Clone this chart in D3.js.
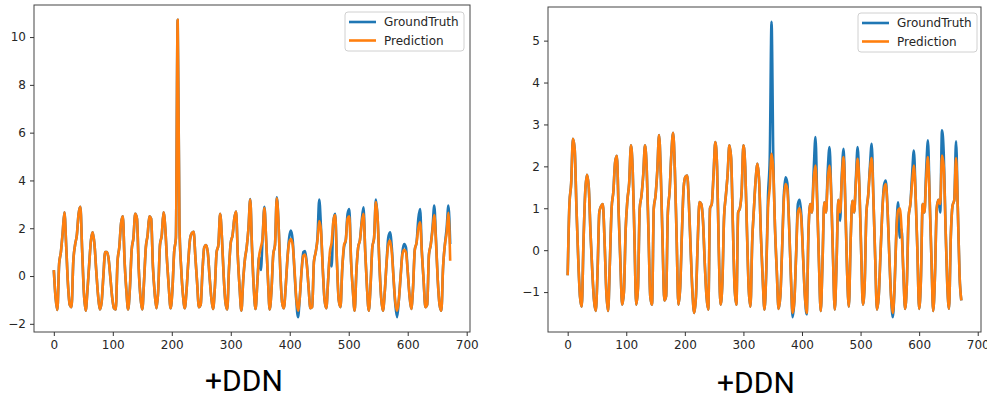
<!DOCTYPE html>
<html>
<head>
<meta charset="utf-8">
<script src="https://cdn.jsdelivr.net/npm/d3@7"></script>
<style>
  html, body { margin: 0; padding: 0; background: #fff; }
  svg { display: block; }
  .tick text { font-family: "DejaVu Sans", sans-serif; font-size: 12px; fill: #262626; }
  .tick line, .domain { stroke: #333; }
</style>
</head>
<body>
<svg id="chart" width="987" height="399"></svg>
<script>
// sample spacing (time steps) of every series below
const step = 3;

// left panel, sampled every 3 steps (0..672)
const leftGroundTruth = [
  0.25, -0.9, -1.42, 0.5, 1.0, 1.8, 2.67, 1.25,
  -0.35, -1.2, -1.3, 0.6, 1.3, 1.7, 2.6, 2.9,
  1.1, -0.7, -1.45, -0.6, 0.5, 1.5, 1.83, 1.3,
  0.2, -0.8, -1.4, -1.1, 0.0, 1.0, 1.0, 0.7,
  -0.1, -0.9, -1.35, -1.4, 0.6, 1.2, 2.2, 2.5,
  0.6, -0.6, -1.4, -0.5, 1.1, 1.6, 2.6, 2.4,
  0.3, -0.9, -1.4, -0.2, 1.2, 1.7, 2.5, 2.4,
  0.4, -0.7, -1.35, -0.6, 1.3, 1.7, 2.67, 2.0,
  0.6, -0.5, -1.35, -0.6, 1.0, 1.6, 10.72, 2.1,
  0.3, -0.8, -1.35, -0.6, 0.6, 1.55, 1.8, 1.85,
  0.8, -0.3, -1.3, -1.2, 0.2, 1.2, 1.3, 1.0,
  0.0, -0.9, -1.38, -0.5, 1.0, 1.3, 2.6, 1.6,
  0.0, -1.1, -1.4, 0.3, 1.4, 1.7, 2.4, 2.7,
  0.8, -0.5, -1.45, -0.2, 0.7, 1.2, 2.0, 3.22,
  1.2, -0.5, -1.38, -0.3, 0.8, 0.25, 1.6, 2.9,
  1.5, -0.1, -1.4, -0.6, 0.9, 1.3, 3.3, 2.2,
  0.2, -1.1, -1.35, -0.5, 0.7, 1.6, 1.9, 1.5,
  0.2, -1.0, -1.72, -0.9, 0.2, 1.0, 1.05, 0.5,
  -0.5, -1.35, -1.3, 0.6, 1.0, 1.6, 3.2, 2.0,
  0.3, -1.0, -1.35, -0.2, 0.8, 0.4, 2.3, 2.6,
  0.6, -1.0, -1.3, 0.3, 1.2, 1.5, 2.6, 2.8,
  0.6, -0.6, -1.45, 0.2, 1.2, 1.5, 2.3, 2.88,
  1.0, -0.5, -1.45, -0.4, 1.2, 1.6, 3.2, 2.4,
  0.5, -0.9, -1.45, -0.7, 0.5, 1.6, 1.83, 1.2,
  -0.1, -1.2, -1.72, -1.0, 0.0, 1.0, 1.34, 1.2,
  0.2, -0.8, -1.38, -0.5, 1.1, 1.4, 2.4, 2.8,
  1.0, -0.2, -1.3, -1.2, 0.9, 1.3, 2.0, 2.95,
  1.5, -0.2, -1.2, -1.45, 0.4, 1.3, 2.0, 2.95,
  1.34
];
const leftPrediction = [
  0.25, -0.9, -1.42, 0.5, 1.0, 1.8, 2.67, 1.25,
  -0.35, -1.2, -1.3, 0.6, 1.3, 1.7, 2.6, 2.9,
  1.1, -0.7, -1.45, -0.6, 0.5, 1.5, 1.83, 1.3,
  0.2, -0.8, -1.4, -1.1, 0.0, 1.0, 1.0, 0.7,
  -0.1, -0.9, -1.35, -1.4, 0.6, 1.2, 2.2, 2.5,
  0.6, -0.6, -1.4, -0.5, 1.1, 1.6, 2.6, 2.4,
  0.3, -0.9, -1.4, -0.2, 1.2, 1.7, 2.5, 2.4,
  0.4, -0.7, -1.35, -0.6, 1.3, 1.7, 2.67, 2.0,
  0.6, -0.5, -1.35, -0.6, 1.0, 1.6, 10.72, 2.1,
  0.3, -0.8, -1.35, -0.6, 0.6, 1.55, 1.8, 1.85,
  0.8, -0.3, -1.3, -1.2, 0.2, 1.2, 1.3, 1.0,
  0.0, -0.9, -1.38, -0.5, 1.0, 1.3, 2.6, 1.6,
  0.0, -1.1, -1.4, 0.3, 1.4, 1.7, 2.4, 2.7,
  0.8, -0.5, -1.45, -0.2, 0.7, 1.2, 2.0, 3.2,
  1.2, -0.5, -1.38, -0.3, 0.8, 1.2, 1.6, 2.85,
  1.5, -0.1, -1.4, -0.6, 0.9, 1.3, 3.25, 2.2,
  0.2, -1.1, -1.35, -0.5, 0.7, 1.4, 1.55, 1.3,
  0.3, -0.9, -1.45, -0.9, 0.2, 0.85, 0.9, 0.45,
  -0.5, -1.35, -1.3, 0.6, 1.0, 1.5, 2.3, 1.9,
  0.3, -1.0, -1.35, -0.2, 1.0, 1.4, 2.3, 2.55,
  0.6, -1.0, -1.3, 0.3, 1.3, 1.5, 2.4, 2.5,
  0.6, -0.6, -1.45, 0.2, 1.2, 1.5, 2.2, 2.6,
  1.0, -0.5, -1.45, -0.4, 1.2, 1.6, 3.1, 2.4,
  0.5, -0.9, -1.45, -0.7, 0.5, 1.3, 1.48, 1.0,
  -0.1, -1.1, -1.45, -1.0, 0.0, 0.9, 1.1, 1.0,
  0.2, -0.8, -1.38, -0.5, 1.1, 1.4, 2.0, 2.25,
  1.0, -0.2, -1.3, -1.2, 0.9, 1.3, 1.9, 2.55,
  1.4, -0.2, -1.2, -1.45, 0.4, 1.3, 1.8, 2.65,
  0.64
];

// right panel, sampled every 3 steps (0..672)
const rightGroundTruth = [
  -0.6, 1.1, 1.6, 2.66, 2.4, 1.0, -0.2, -1.1,
  -1.35, 0.2, 1.4, 1.8, 1.5, 0.4, -0.5, -1.2,
  -1.45, -0.5, 0.9, 1.05, 1.1, 0.2, -1.0, -1.45,
  -0.3, 1.0, 1.4, 2.1, 2.25, 0.9, -0.3, -1.3,
  -1.0, 0.5, 1.2, 1.6, 2.5, 1.9, 0.3, -1.3,
  -0.9, 1.0, 1.3, 1.8, 2.5, 1.9, 0.4, -1.1,
  -1.3, 1.0, 1.3, 1.9, 2.75, 1.8, 0.2, -1.2,
  -1.1, 0.9, 1.4, 2.3, 2.8, 1.9, 0.3, -1.3,
  -0.9, 0.4, 1.5, 1.75, 1.78, 1.1, 0.0, -1.0,
  -1.5, -1.1, 0.2, 1.15, 1.1, 0.7, -0.3, -1.1,
  -1.42, 1.0, 1.1, 1.8, 2.58, 2.0, 0.0, -1.3,
  -0.8, 0.8, 1.3, 1.8, 2.5, 2.2, 0.6, -0.9,
  -1.3, 0.9, 1.0, 1.4, 2.5, 2.0, 0.5, -0.9,
  -1.35, 0.2, 1.0, 1.7, 2.06, 1.6, 0.3, -0.7,
  -1.42, -0.5, 1.3, 2.2, 5.45, 2.2, 0.5, -0.5,
  -1.4, -1.1, 0.0, 1.3, 1.74, 1.6, 0.6, -0.6,
  -1.6, -1.2, -0.1, 1.1, 1.2, 0.8, -0.2, -1.1,
  -1.53, 0.4, 1.1, 0.9, 1.9, 2.7, 1.2, -0.3,
  -1.45, -0.3, 1.14, 0.9, 1.9, 2.46, 1.3, -0.2,
  -1.42, -0.3, 1.2, 0.7, 1.8, 2.42, 1.1, -0.5,
  -1.35, 0.2, 1.18, 0.9, 1.7, 2.46, 1.5, 0.0,
  -1.3, -0.8, 0.9, 1.3, 2.0, 2.54, 1.2, -0.2,
  -1.42, -1.1, -0.1, 0.9, 1.55, 1.66, 1.0, -0.1,
  -1.1, -1.6, -0.9, 0.4, 1.14, 0.3, 0.5, -0.5,
  -1.4, -0.8, 0.8, 1.1, 1.8, 2.38, 1.3, 0.0,
  -1.4, -0.7, 1.1, 0.9, 1.9, 2.62, 1.2, -0.2,
  -1.45, -0.6, 1.0, 1.2, 0.9, 2.86, 2.3, 0.6,
  -0.8, -1.4, 0.3, 1.06, 1.2, 2.6, 1.0, -0.6,
  -1.2
];
const rightPrediction = [
  -0.6, 1.1, 1.6, 2.66, 2.4, 1.0, -0.2, -1.1,
  -1.35, 0.2, 1.4, 1.8, 1.5, 0.4, -0.5, -1.2,
  -1.45, -0.5, 0.9, 1.05, 1.1, 0.2, -1.0, -1.45,
  -0.3, 1.0, 1.4, 2.1, 2.25, 0.9, -0.3, -1.3,
  -1.0, 0.5, 1.2, 1.6, 2.5, 1.9, 0.3, -1.3,
  -0.9, 1.0, 1.3, 1.8, 2.5, 1.9, 0.4, -1.1,
  -1.3, 1.0, 1.3, 1.9, 2.75, 1.8, 0.2, -1.2,
  -1.1, 0.9, 1.4, 2.3, 2.8, 1.9, 0.3, -1.3,
  -0.9, 0.4, 1.5, 1.75, 1.78, 1.1, 0.0, -1.0,
  -1.5, -1.1, 0.2, 1.15, 1.1, 0.7, -0.3, -1.1,
  -1.42, 1.0, 1.1, 1.8, 2.58, 2.0, 0.0, -1.3,
  -0.8, 0.8, 1.3, 1.8, 2.5, 2.2, 0.6, -0.9,
  -1.3, 0.9, 1.0, 1.4, 2.5, 2.0, 0.5, -0.9,
  -1.35, 0.2, 1.0, 1.7, 2.06, 1.6, 0.3, -0.7,
  -1.42, -0.5, 1.0, 1.5, 2.3, 1.9, 0.5, -0.5,
  -1.4, -1.1, 0.0, 1.2, 1.58, 1.45, 0.6, -0.6,
  -1.5, -1.2, -0.1, 0.9, 1.0, 0.7, -0.2, -1.1,
  -1.5, 0.4, 1.1, 0.9, 1.7, 2.02, 1.1, -0.3,
  -1.45, -0.3, 1.14, 0.9, 1.7, 2.02, 1.3, -0.2,
  -1.42, -0.3, 1.2, 0.9, 1.7, 2.22, 1.1, -0.5,
  -1.35, 0.2, 1.18, 0.9, 1.6, 2.18, 1.5, 0.0,
  -1.3, -0.8, 0.9, 1.3, 1.9, 2.2, 1.2, -0.2,
  -1.42, -1.1, -0.1, 0.9, 1.45, 1.58, 1.0, -0.1,
  -1.1, -1.5, -0.9, 0.4, 0.95, 1.0, 0.5, -0.5,
  -1.4, -0.8, 0.8, 1.1, 1.6, 2.02, 1.3, 0.0,
  -1.4, -0.7, 1.1, 0.9, 1.7, 2.22, 1.2, -0.2,
  -1.45, -0.6, 1.0, 1.2, 1.1, 2.26, 2.0, 0.6,
  -0.8, -1.4, 0.3, 1.06, 1.2, 2.2, 1.0, -0.6,
  -1.2
];

const seriesNames = ["GroundTruth", "Prediction"];
const seriesColors = ["#1f77b4", "#ff7f0e"];
const xTicks = [0, 100, 200, 300, 400, 500, 600, 700];
const leftYTicks = [-2, 0, 2, 4, 6, 8, 10];
const rightYTicks = [-1, 0, 1, 2, 3, 4, 5];
const captions = ["+DDN", "+DDN"];

const svg = d3.select("#chart");

const panels = [
  { box: { x0: 34, x1: 470, y0: 5, y1: 332 }, series: [leftGroundTruth, leftPrediction],
    yTicks: leftYTicks, legend: { x: 345, y: 12, w: 119, h: 39 }, caption: { x: 244, y: 391 } },
  { box: { x0: 548, x1: 981, y0: 7, y1: 332 }, series: [rightGroundTruth, rightPrediction],
    yTicks: rightYTicks, legend: { x: 858, y: 13, w: 119, h: 39 }, caption: { x: 756, y: 393 } }
];

panels.forEach((p, pi) => {
  const b = p.box;
  const n = p.series[0].length;
  const lastT = (n - 1) * step;
  const all = p.series.flat();
  const [lo, hi] = d3.extent(all);
  const pad = (hi - lo) * 0.05;

  const x = d3.scaleLinear().domain([-0.05 * lastT, 1.05 * lastT]).range([b.x0, b.x1]);
  const y = d3.scaleLinear().domain([lo - pad, hi + pad]).range([b.y1, b.y0]);

  const g = svg.append("g");

  const line = d3.line()
    .x((d, i) => x(i * step))
    .y(d => y(d))
    .curve(d3.curveMonotoneX);

  p.series.forEach((s, si) => {
    g.append("path")
      .datum(s)
      .attr("fill", "none")
      .attr("stroke", seriesColors[si])
      .attr("stroke-width", 2.6)
      .attr("stroke-linejoin", "round")
      .attr("d", line);
  });

  // frame
  g.append("rect")
    .attr("x", b.x0).attr("y", b.y0)
    .attr("width", b.x1 - b.x0).attr("height", b.y1 - b.y0)
    .attr("fill", "none").attr("stroke", "#444").attr("stroke-width", 1);

  g.append("g")
    .attr("transform", "translate(0," + b.y1 + ")")
    .call(d3.axisBottom(x).tickValues(xTicks).tickSize(4).tickPadding(4))
    .call(a => a.select(".domain").remove());

  g.append("g")
    .attr("transform", "translate(" + b.x0 + ",0)")
    .call(d3.axisLeft(y).tickValues(p.yTicks).tickSize(4).tickPadding(4).tickFormat(d => d < 0 ? "\u2212" + Math.abs(d) : d))
    .call(a => a.select(".domain").remove());

  // legend
  const L = p.legend;
  const lg = g.append("g");
  lg.append("rect")
    .attr("x", L.x).attr("y", L.y).attr("width", L.w).attr("height", L.h)
    .attr("rx", 3).attr("fill", "#fff").attr("fill-opacity", 0.85)
    .attr("stroke", "#d0d0d0").attr("stroke-width", 1);
  seriesNames.forEach((name, si) => {
    const cy = L.y + 10 + si * 18.5;
    lg.append("line")
      .attr("x1", L.x + 4).attr("x2", L.x + 31)
      .attr("y1", cy).attr("y2", cy)
      .attr("stroke", seriesColors[si]).attr("stroke-width", 2.6);
    lg.append("text")
      .attr("x", L.x + 39).attr("y", cy)
      .attr("dy", "0.35em")
      .attr("font-family", "DejaVu Sans, sans-serif")
      .attr("font-size", 12)
      .attr("fill", "#262626")
      .text(name);
  });

  svg.append("text")
    .attr("x", p.caption.x).attr("y", p.caption.y)
    .attr("text-anchor", "middle")
    .attr("font-family", "Roboto, sans-serif")
    .attr("font-size", 30)
    .attr("fill", "#000")
    .text(captions[pi]);
});
</script>
</body>
</html>
